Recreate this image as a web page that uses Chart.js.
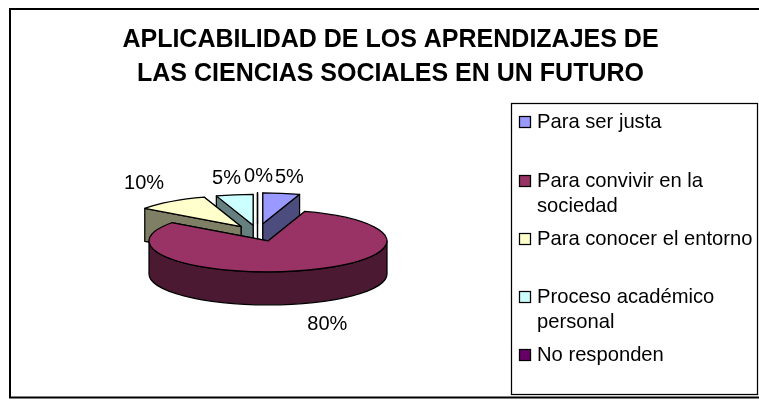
<!DOCTYPE html>
<html><head><meta charset="utf-8">
<style>html,body{margin:0;padding:0;background:#fff}canvas{display:block}</style>
<script src="https://cdn.jsdelivr.net/npm/chart.js@4"></script>
</head><body><canvas id="c" width="759" height="409"></canvas>
<script>
const categories = ["Para ser justa", "Para convivir en la sociedad", "Para conocer el entorno", "Proceso académico personal", "No responden"];
const values = [5, 80, 10, 5, 0];
const faceColors = ["#9999FF", "#993366", "#FFFFCC", "#CCFFFF", "#660066"];
const wallColors = ["#4C4C7F", "#4C1933", "#7F7F66", "#667F7F", "#330033"];
const titleLines = ["APLICABILIDAD DE LOS APRENDIZAJES DE", "LAS CIENCIAS SOCIALES EN UN FUTURO"];
const legendLines = [["Para ser justa"], ["Para convivir en la", "sociedad"], ["Para conocer el entorno"], ["Proceso académico", "personal"], ["No responden"]];

const FONT = '"Liberation Sans", Arial, sans-serif';
const squash = 0.26, depth = 33;
const explode = [34, 34, 28, 28, 34];
const drawOrder = [4, 3, 2, 0, 1];
const legendBaseline = [128, 187, 245, 303, 361];
const labelNudge = [[8, -16], [22.5, 21], [-27, -18], [-8, -16], [1, -16]];

const pie3d = {
  id: 'pie3d',
  afterLayout(chart) {
    chart.titleBlock.left = 21; chart.titleBlock.right = 760;
  },
  beforeDraw(chart) {
    const c = chart.ctx;
    c.save();
    c.fillStyle = '#fff'; c.fillRect(0, 0, 759, 409);
    c.strokeStyle = '#000'; c.lineWidth = 2;
    c.strokeRect(10, 9, 760, 388.5);
    c.lineWidth = 1.25;
    c.strokeRect(511.5, 103.5, 246, 291);
    c.restore();
  },
  beforeDatasetDraw(chart) {
    const c = chart.ctx, arcs = chart.getDatasetMeta(0).data;
    drawOrder.forEach(i => {
      const a = arcs[i], r = a.outerRadius, ry = r * squash;
      const mid = (a.startAngle + a.endAngle) / 2;
      const tx = a.x + Math.cos(mid) * explode[i], ty = a.y + Math.sin(mid) * explode[i] * squash;
      const P = t => [tx + Math.cos(t) * r, ty + Math.sin(t) * ry];
      c.save();
      c.strokeStyle = '#000'; c.lineWidth = 1.25; c.lineJoin = 'round';
      c.fillStyle = wallColors[i];
      [a.startAngle, a.endAngle].sort((p, q) => P(p)[1] - P(q)[1]).forEach(t => {
        const p = P(t);
        c.beginPath(); c.moveTo(tx, ty); c.lineTo(p[0], p[1]); c.lineTo(p[0], p[1] + depth); c.lineTo(tx, ty + depth); c.closePath();
        c.fill(); c.stroke();
      });
      const s = Math.max(a.startAngle, 0), e = Math.min(a.endAngle, Math.PI);
      if (e > s) {
        c.beginPath();
        c.ellipse(tx, ty, r, ry, 0, s, e);
        c.ellipse(tx, ty + depth, r, ry, 0, e, s, true);
        c.closePath(); c.fill(); c.stroke();
      }
      c.save();
      c.translate(tx, ty); c.scale(1, squash); c.translate(-a.x, -a.y);
      a.draw(c);
      c.restore();
      c.beginPath(); c.moveTo(tx, ty);
      c.ellipse(tx, ty, r, ry, 0, a.startAngle, a.endAngle);
      c.closePath(); c.stroke();
      c.restore();
    });
    return false;
  },
  afterDraw(chart) {
    const c = chart.ctx, arcs = chart.getDatasetMeta(0).data;
    c.save();
    c.fillStyle = '#000'; c.textBaseline = 'middle'; c.textAlign = 'center';
    c.font = '20px ' + FONT;
    arcs.forEach((a, i) => {
      const mid = (a.startAngle + a.endAngle) / 2;
      const r = a.outerRadius, e = explode[i];
      const x = a.x + Math.cos(mid) * (e + r), y = a.y + Math.sin(mid) * (e + r) * squash;
      const low = Math.sin(mid) > 0 ? depth : 0;
      c.fillText(values[i] + '%', x + labelNudge[i][0], y + low + labelNudge[i][1]);
    });
    c.textAlign = 'left'; c.textBaseline = 'alphabetic';
    c.font = '20.2px ' + FONT;
    legendLines.forEach((lines, i) => {
      const b = legendBaseline[i];
      c.fillStyle = faceColors[i]; c.strokeStyle = '#000'; c.lineWidth = 1.25;
      c.fillRect(519.5, b - 11.5, 11, 11); c.strokeRect(519.5, b - 11.5, 11, 11);
      c.fillStyle = '#000';
      lines.forEach((t, k) => c.fillText(t, 537, b + k * 25));
    });
    c.restore();
  }
};

new Chart(document.getElementById('c'), {
  type: 'pie',
  data: { labels: categories, datasets: [{ data: values, backgroundColor: faceColors, borderWidth: 0 }] },
  options: {
    responsive: false, animation: false, events: [], radius: 119,
    layout: { padding: { left: 0, right: 244, top: 0, bottom: 35 } },
    plugins: {
      legend: { display: false }, tooltip: { enabled: false },
      title: { display: true, text: titleLines, color: '#000',
        font: { family: FONT, size: 25, weight: 'bold', lineHeight: 34 / 25 },
        padding: { top: 23, bottom: 0 } }
    }
  },
  plugins: [pie3d]
});
</script></body></html>
